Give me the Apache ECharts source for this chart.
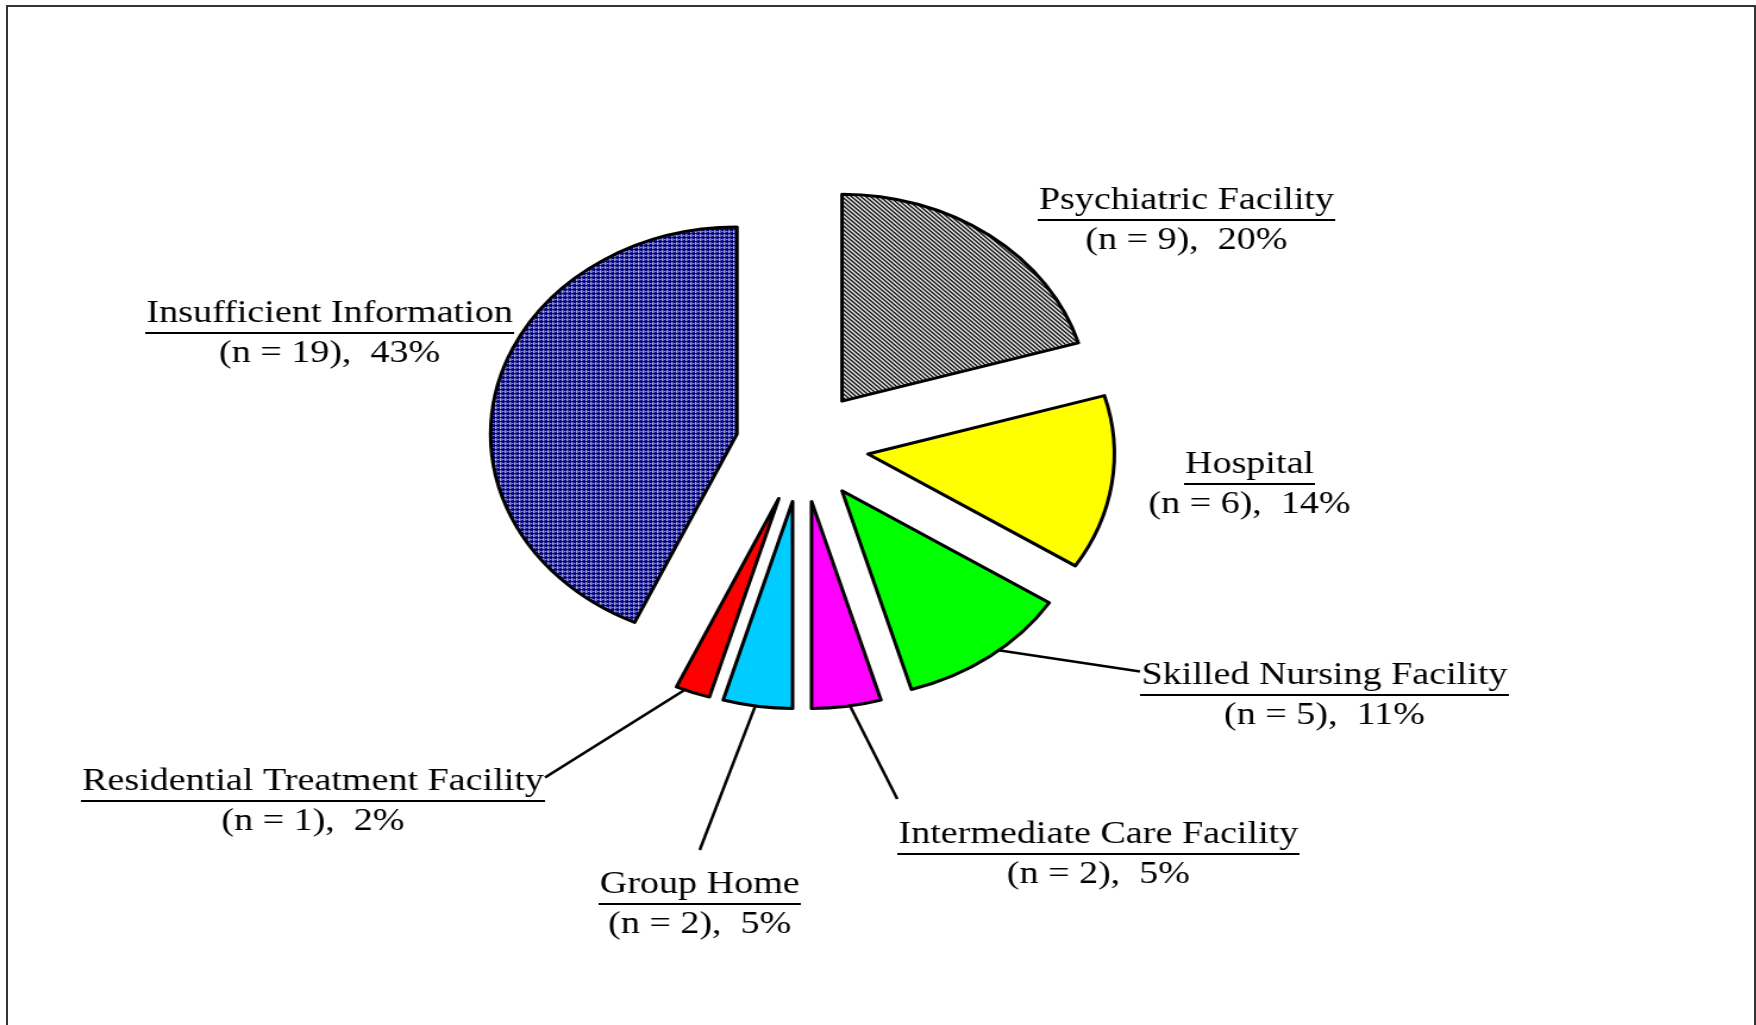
<!DOCTYPE html>
<html><head><meta charset="utf-8">
<script src="https://cdn.jsdelivr.net/npm/echarts@6/dist/echarts.min.js"></script>
<style>
html,body{margin:0;padding:0;background:#fff;overflow:hidden;}
#wrap{position:absolute;left:0;top:0;width:1756px;height:1025px;overflow:hidden;background:#fff;}
#frame{position:absolute;left:6px;top:5px;width:1750px;height:1100px;border:2px solid #333;box-sizing:border-box;pointer-events:none;}
#chart{position:absolute;left:0;top:0;width:1476px;height:1025px;transform:scaleX(1.19);transform-origin:0 0;}
</style></head><body>
<div id="wrap"><div id="chart"></div><div id="frame"></div></div>
<script>
// ---- data ----
const categories = ['Psychiatric Facility','Hospital','Skilled Nursing Facility','Intermediate Care Facility','Group Home','Residential Treatment Facility','Insufficient Information'];
const counts = [9, 6, 5, 2, 2, 1, 19];
const percents = [20, 14, 11, 5, 5, 2, 43];
const showLine = [false, false, true, true, true, true, false];

// ---- styles / layout ----
const FONT = '"Liberation Serif","Times New Roman",serif';
const FS = 32;
// centre of the first label line (chart px, before horizontal stretch)
const labelPos = [[997, 201], [1050, 465], [1113, 676], [923, 835], [588, 885], [263, 782], [277, 314]];
// invisible top padding that moves the leader-line attachment point up
const padTop = [0, 0, 51, 114, 18, 51, 0];

function makePattern(w, h, draw){const c=document.createElement('canvas');c.width=w;c.height=h;draw(c.getContext('2d'));return c;}
const hatch = makePattern(4,4,ctx=>{ctx.fillStyle='#fff';ctx.fillRect(0,0,4,4);ctx.fillStyle='#000';for(let i=0;i<4;i++){ctx.fillRect(i,i,1,1);ctx.fillRect((i+1)%4,i,1,1);}});
const dots = makePattern(4,4,ctx=>{ctx.fillStyle='#000080';ctx.fillRect(0,0,4,4);ctx.fillStyle='#fff';ctx.fillRect(3,0,1,1);ctx.fillRect(3,2,1,1);ctx.fillRect(1,3,1,1);ctx.fillRect(3,3,1,1);});
const fills = [
  {image: hatch, repeat: 'repeat'},
  '#ffff00', '#00ff00', '#ff00ff', '#00ccff', '#ff0000',
  {image: dots, repeat: 'repeat'}
];

const mctx = document.createElement('canvas').getContext('2d');
mctx.font = FS + 'px ' + FONT;

const sliceData = categories.map((name, i) => ({
  name: name,
  value: counts[i],
  selected: true,
  itemStyle: {color: fills[i]}
}));

const labelData = categories.map((name, i) => {
  const w = Math.round(mctx.measureText(name).width) + 2;
  return {
    name: name,
    value: counts[i],
    labelLine: {show: showLine[i]},
    label: {
      padding: [padTop[i], 0, 0, 0],
      backgroundColor: padTop[i] ? 'rgba(255,255,255,0)' : null,
      formatter: '{n|' + name + '}\n{u| }\n{v|(n = ' + counts[i] + '),  ' + percents[i] + '%}',
      rich: {
        n: {fontSize: FS, fontFamily: FONT, color: '#000', lineHeight: 34},
        u: {width: w, height: 2, lineHeight: 4, backgroundColor: '#000', fontSize: 2},
        v: {fontSize: FS, fontFamily: FONT, color: '#000', lineHeight: 38}
      }
    }
  };
});

const chart = echarts.init(document.getElementById('chart'), null, {renderer: 'canvas'});
chart.setOption({
  animation: false,
  backgroundColor: 'transparent',
  series: [{
    type: 'pie',
    center: [674, 446],
    radius: 207,
    startAngle: 90,
    clockwise: true,
    selectedMode: 'multiple',
    selectedOffset: 56,
    itemStyle: {borderColor: '#000', borderWidth: 3},
    select: {itemStyle: {borderColor: '#000', borderWidth: 3}},
    emphasis: {disabled: true},
    label: {show: false},
    labelLine: {show: false},
    silent: true,
    data: sliceData
  }, {
    type: 'pie',
    center: [674, 446],
    radius: 252,
    startAngle: 90,
    clockwise: true,
    selectedMode: false,
    silent: true,
    avoidLabelOverlap: false,
    itemStyle: {color: 'rgba(0,0,0,0)', borderWidth: 0},
    emphasis: {disabled: true},
    label: {show: true, position: 'outside', align: 'center'},
    labelLine: {show: true, length: 0, length2: 0, smooth: false, lineStyle: {color: '#000', width: 2.5}},
    labelLayout: function (p) {
      const i = p.dataIndex;
      const pos = labelPos[i];
      return {x: pos[0], y: pos[1] + 21 - padTop[i] / 2, align: 'center', verticalAlign: 'middle'};
    },
    data: labelData
  }]
});
</script>
</body></html>
